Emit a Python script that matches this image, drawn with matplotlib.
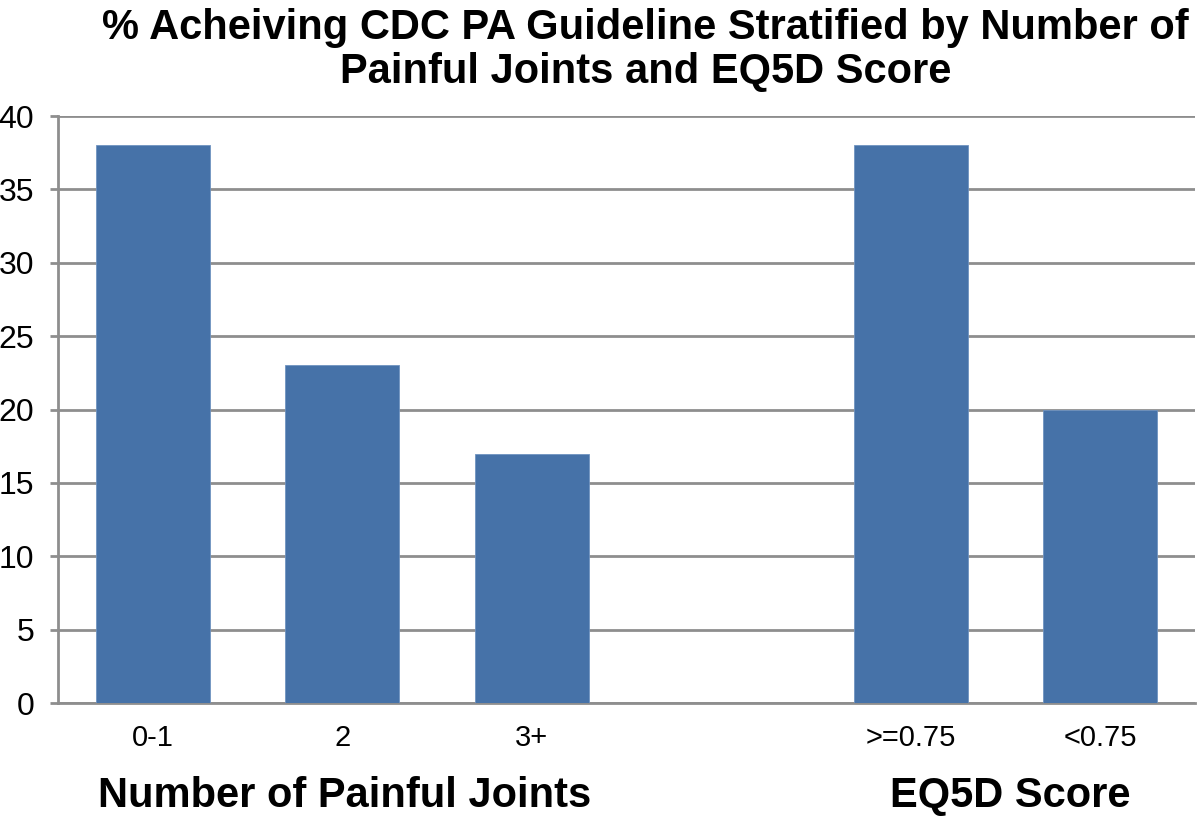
import matplotlib
matplotlib.use('Agg')
import matplotlib.pyplot as plt
import numpy as np

# values (% achieving guideline)
categories = ['0-1', '2', '3+', '', '>=0.75', '<0.75']
values = [38, 23, 17, 0, 38, 20]
y_ticks = [0, 5, 10, 15, 20, 25, 30, 35, 40]
group_labels = ['Number of Painful Joints', 'EQ5D Score']

bar_color = '#4672a8'
grid_color = '#8e8e8e'

plt.rcParams['font.family'] = ['Liberation Sans', 'DejaVu Sans']

fig = plt.figure(figsize=(12, 8.21), dpi=100)
ax = fig.add_axes([0.0483, 0.1437, 0.9475, 0.715])

x = np.arange(len(categories))
heights = [v if c else 0 for c, v in zip(categories, values)]
ax.bar(x, heights, width=0.6, color=bar_color, edgecolor='#6f93c0', linewidth=0.6, zorder=3)

ax.set_xlim(-0.5, len(categories) - 0.5)
ax.set_ylim(0, 40)
ax.set_yticks(y_ticks)
ax.set_yticklabels([str(t) for t in y_ticks], fontsize=23)
ax.set_xticks(x)
ax.set_xticklabels(categories, fontsize=21)

ax.yaxis.grid(True, color=grid_color, linewidth=2, zorder=0)
ax.set_axisbelow(True)
for s in ['top', 'right', 'bottom']:
    ax.spines[s].set_visible(False)
ax.spines['left'].set_color(grid_color)
ax.spines['left'].set_linewidth(2)
ax.tick_params(axis='y', length=6, width=2, color=grid_color, pad=11)
ax.tick_params(axis='x', length=0, pad=15)
# bottom baseline drawn as the 0 gridline
ax.axhline(0, color=grid_color, linewidth=2, zorder=1, clip_on=False)

title_font = ['Liberation Sans Narrow', 'Liberation Sans']
fig.text(0.538, 0.99, '% Acheiving CDC PA Guideline Stratified by Number of\nPainful Joints and EQ5D Score',
         ha='center', va='top', fontsize=30, fontweight='bold', family=title_font,
         linespacing=1.12)

fig.text(0.287, 0.031, group_labels[0], ha='center', va='center', fontsize=30, fontweight='bold')
fig.text(0.842, 0.031, group_labels[1], ha='center', va='center', fontsize=30, fontweight='bold')

fig.savefig('out.png', dpi=100)
